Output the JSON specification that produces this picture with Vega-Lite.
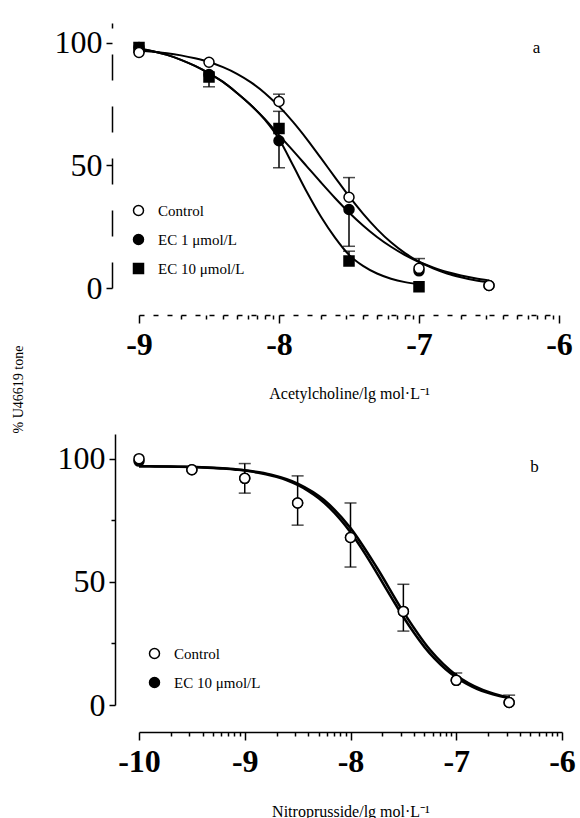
{
  "$schema": "https://vega.github.io/schema/vega-lite/v6.json",
  "background": "white",
  "padding": {"left": 11, "top": 23, "right": 0, "bottom": 0},
  "bounds": "flush",
  "spacing": 146,
  "config": {
    "view": {"stroke": null},
    "font": "Liberation Serif",
    "axis": {
      "grid": false,
      "domainColor": "black",
      "tickColor": "black",
      "labelColor": "black",
      "titleColor": "black",
      "labelFont": "Liberation Serif",
      "titleFont": "Liberation Serif",
      "titleFontWeight": "normal",
      "labelFontSize": 32,
      "domainWidth": 1.5,
      "tickWidth": 1.5,
      "labelOverlap": false,
      "labelFlush": false
    },
    "legend": {
      "labelFont": "Liberation Serif",
      "labelFontSize": 15,
      "labelColor": "black",
      "symbolStrokeColor": "black",
      "symbolStrokeWidth": 1.5,
      "symbolSize": 100,
      "rowPadding": 12,
      "labelOffset": 12,
      "padding": 0
    }
  },
  "datasets": {
    "curvesA": [
      {"s": "Control", "x": -9, "y": 96.8}, {"s": "Control", "x": -8.9, "y": 96.3}, {"s": "Control", "x": -8.8, "y": 95.7}, {"s": "Control", "x": -8.7, "y": 94.8}, {"s": "Control", "x": -8.6, "y": 93.6}, {"s": "Control", "x": -8.5, "y": 92.1}, {"s": "Control", "x": -8.4, "y": 90.0}, {"s": "Control", "x": -8.3, "y": 87.3}, {"s": "Control", "x": -8.2, "y": 83.8}, {"s": "Control", "x": -8.1, "y": 79.4}, {"s": "Control", "x": -8, "y": 74.0}, {"s": "Control", "x": -7.9, "y": 67.7}, {"s": "Control", "x": -7.8, "y": 60.6}, {"s": "Control", "x": -7.7, "y": 52.9}, {"s": "Control", "x": -7.6, "y": 45.1}, {"s": "Control", "x": -7.5, "y": 37.4}, {"s": "Control", "x": -7.4, "y": 30.3}, {"s": "Control", "x": -7.3, "y": 24.0}, {"s": "Control", "x": -7.2, "y": 18.6}, {"s": "Control", "x": -7.1, "y": 14.2}, {"s": "Control", "x": -7, "y": 10.7}, {"s": "Control", "x": -6.9, "y": 8.0}, {"s": "Control", "x": -6.8, "y": 5.9}, {"s": "Control", "x": -6.7, "y": 4.4}, {"s": "Control", "x": -6.6, "y": 3.2}, {"s": "Control", "x": -6.5, "y": 2.4},
      {"s": "EC 1", "x": -9, "y": 97.5}, {"s": "EC 1", "x": -8.9, "y": 96.5}, {"s": "EC 1", "x": -8.8, "y": 95.0}, {"s": "EC 1", "x": -8.7, "y": 93.0}, {"s": "EC 1", "x": -8.6, "y": 90.5}, {"s": "EC 1", "x": -8.5, "y": 87.5}, {"s": "EC 1", "x": -8.4, "y": 84.0}, {"s": "EC 1", "x": -8.3, "y": 79.5}, {"s": "EC 1", "x": -8.2, "y": 74.5}, {"s": "EC 1", "x": -8.1, "y": 68.8}, {"s": "EC 1", "x": -8, "y": 62.3}, {"s": "EC 1", "x": -7.9, "y": 56.0}, {"s": "EC 1", "x": -7.8, "y": 49.5}, {"s": "EC 1", "x": -7.7, "y": 43.0}, {"s": "EC 1", "x": -7.6, "y": 36.7}, {"s": "EC 1", "x": -7.5, "y": 30.8}, {"s": "EC 1", "x": -7.4, "y": 25.5}, {"s": "EC 1", "x": -7.3, "y": 20.8}, {"s": "EC 1", "x": -7.2, "y": 16.8}, {"s": "EC 1", "x": -7.1, "y": 13.4}, {"s": "EC 1", "x": -7, "y": 10.6}, {"s": "EC 1", "x": -6.9, "y": 8.4}, {"s": "EC 1", "x": -6.8, "y": 6.5}, {"s": "EC 1", "x": -6.7, "y": 5.1}, {"s": "EC 1", "x": -6.6, "y": 4.0}, {"s": "EC 1", "x": -6.5, "y": 3.1},
      {"s": "EC 10", "x": -9, "y": 97.5}, {"s": "EC 10", "x": -8.9, "y": 96.5}, {"s": "EC 10", "x": -8.8, "y": 95.0}, {"s": "EC 10", "x": -8.7, "y": 93.0}, {"s": "EC 10", "x": -8.6, "y": 90.5}, {"s": "EC 10", "x": -8.5, "y": 87.5}, {"s": "EC 10", "x": -8.4, "y": 84.0}, {"s": "EC 10", "x": -8.3, "y": 79.5}, {"s": "EC 10", "x": -8.2, "y": 74.5}, {"s": "EC 10", "x": -8.1, "y": 68.5}, {"s": "EC 10", "x": -8, "y": 60.7}, {"s": "EC 10", "x": -7.9, "y": 50.0}, {"s": "EC 10", "x": -7.8, "y": 39.0}, {"s": "EC 10", "x": -7.7, "y": 29.0}, {"s": "EC 10", "x": -7.6, "y": 20.5}, {"s": "EC 10", "x": -7.5, "y": 13.5}, {"s": "EC 10", "x": -7.4, "y": 9.0}, {"s": "EC 10", "x": -7.3, "y": 5.9}, {"s": "EC 10", "x": -7.2, "y": 3.8}, {"s": "EC 10", "x": -7.1, "y": 2.4}, {"s": "EC 10", "x": -7, "y": 1.5}
    ],
    "pointsA": [
      {"g": "EC 1 μmol/L", "x": -9, "y": 98}, {"g": "EC 1 μmol/L", "x": -8.5, "y": 87}, {"g": "EC 1 μmol/L", "x": -8, "y": 60}, {"g": "EC 1 μmol/L", "x": -7.5, "y": 32}, {"g": "EC 1 μmol/L", "x": -7, "y": 7}, {"g": "EC 1 μmol/L", "x": -6.5, "y": 1},
      {"g": "EC 10 μmol/L", "x": -9, "y": 98}, {"g": "EC 10 μmol/L", "x": -8.5, "y": 86}, {"g": "EC 10 μmol/L", "x": -8, "y": 65}, {"g": "EC 10 μmol/L", "x": -7.5, "y": 11}, {"g": "EC 10 μmol/L", "x": -7, "y": 0.5},
      {"g": "Control", "x": -9, "y": 96}, {"g": "Control", "x": -8.5, "y": 92}, {"g": "Control", "x": -8, "y": 76}, {"g": "Control", "x": -7.5, "y": 37}, {"g": "Control", "x": -7, "y": 8}, {"g": "Control", "x": -6.5, "y": 1}
    ],
    "errA": [
      {"x": -8, "y": 76, "end": 79}, {"x": -7.5, "y": 37, "end": 45}, {"x": -7, "y": 8, "end": 12},
      {"x": -8, "y": 60, "end": 49}, {"x": -7.5, "y": 32, "end": 17},
      {"x": -8.5, "y": 86, "end": 82}, {"x": -8, "y": 65, "end": 72}, {"x": -7.5, "y": 11, "end": 15}
    ],
    "curvesB": [
      {"s": "Control", "x": -10, "y": 96.9}, {"s": "Control", "x": -9.9, "y": 96.9}, {"s": "Control", "x": -9.8, "y": 96.8}, {"s": "Control", "x": -9.7, "y": 96.8}, {"s": "Control", "x": -9.6, "y": 96.7}, {"s": "Control", "x": -9.5, "y": 96.6}, {"s": "Control", "x": -9.4, "y": 96.4}, {"s": "Control", "x": -9.3, "y": 96.2}, {"s": "Control", "x": -9.2, "y": 96.0}, {"s": "Control", "x": -9.1, "y": 95.6}, {"s": "Control", "x": -9, "y": 95.2}, {"s": "Control", "x": -8.9, "y": 94.5}, {"s": "Control", "x": -8.8, "y": 93.7}, {"s": "Control", "x": -8.7, "y": 92.6}, {"s": "Control", "x": -8.6, "y": 91.2}, {"s": "Control", "x": -8.5, "y": 89.3}, {"s": "Control", "x": -8.4, "y": 86.9}, {"s": "Control", "x": -8.3, "y": 83.9}, {"s": "Control", "x": -8.2, "y": 80.1}, {"s": "Control", "x": -8.1, "y": 75.5}, {"s": "Control", "x": -8, "y": 70.1}, {"s": "Control", "x": -7.9, "y": 63.9}, {"s": "Control", "x": -7.8, "y": 57.1}, {"s": "Control", "x": -7.7, "y": 49.9}, {"s": "Control", "x": -7.6, "y": 42.7}, {"s": "Control", "x": -7.5, "y": 35.7}, {"s": "Control", "x": -7.4, "y": 29.3}, {"s": "Control", "x": -7.3, "y": 23.5}, {"s": "Control", "x": -7.2, "y": 18.6}, {"s": "Control", "x": -7.1, "y": 14.5}, {"s": "Control", "x": -7, "y": 11.2}, {"s": "Control", "x": -6.9, "y": 8.6}, {"s": "Control", "x": -6.8, "y": 6.5}, {"s": "Control", "x": -6.7, "y": 4.9}, {"s": "Control", "x": -6.6, "y": 3.7}, {"s": "Control", "x": -6.5, "y": 2.8},
      {"s": "EC 10", "x": -10, "y": 96.9}, {"s": "EC 10", "x": -9.75, "y": 96.8}, {"s": "EC 10", "x": -9.5, "y": 96.6}, {"s": "EC 10", "x": -9.25, "y": 96.2}, {"s": "EC 10", "x": -9, "y": 95.3}, {"s": "EC 10", "x": -8.75, "y": 93.5}, {"s": "EC 10", "x": -8.5, "y": 89.9}, {"s": "EC 10", "x": -8.25, "y": 83.2}, {"s": "EC 10", "x": -8, "y": 71.8}, {"s": "EC 10", "x": -7.75, "y": 55.7}, {"s": "EC 10", "x": -7.5, "y": 37.8}, {"s": "EC 10", "x": -7.25, "y": 22.5}, {"s": "EC 10", "x": -7, "y": 12.1}, {"s": "EC 10", "x": -6.75, "y": 6.1}, {"s": "EC 10", "x": -6.5, "y": 3.0}
    ],
    "pointsB": [
      {"g": "EC 10 μmol/L", "x": -10, "y": 99}, {"g": "EC 10 μmol/L", "x": -9.5, "y": 95.5}, {"g": "EC 10 μmol/L", "x": -9, "y": 92}, {"g": "EC 10 μmol/L", "x": -8.5, "y": 82}, {"g": "EC 10 μmol/L", "x": -8, "y": 68}, {"g": "EC 10 μmol/L", "x": -7.5, "y": 38}, {"g": "EC 10 μmol/L", "x": -7, "y": 10}, {"g": "EC 10 μmol/L", "x": -6.5, "y": 1},
      {"g": "Control", "x": -10, "y": 100}, {"g": "Control", "x": -9.5, "y": 95.5}, {"g": "Control", "x": -9, "y": 92}, {"g": "Control", "x": -8.5, "y": 82}, {"g": "Control", "x": -8, "y": 68}, {"g": "Control", "x": -7.5, "y": 38}, {"g": "Control", "x": -7, "y": 10}, {"g": "Control", "x": -6.5, "y": 1}
    ],
    "errB": [
      {"x": -9, "y": 92, "end": 98}, {"x": -9, "y": 92, "end": 86},
      {"x": -8.5, "y": 82, "end": 93}, {"x": -8.5, "y": 82, "end": 73},
      {"x": -8, "y": 68, "end": 82}, {"x": -8, "y": 68, "end": 56},
      {"x": -7.5, "y": 38, "end": 49}, {"x": -7.5, "y": 38, "end": 30},
      {"x": -7, "y": 10, "end": 13}, {"x": -6.5, "y": 1, "end": 4}
    ],
    "labelA": [{"x": -6.16, "y": 98, "t": "a"}],
    "labelB": [{"x": -6.26, "y": 96.7, "t": "b"}]
  },
  "resolve": {
    "scale": {"x": "independent", "y": "independent", "shape": "independent", "fill": "independent", "stroke": "independent"},
    "legend": {"shape": "independent", "fill": "independent", "stroke": "independent"}
  },
  "vconcat": [
    {
      "width": 420,
      "height": 265,
      "encoding": {
        "x": {
          "field": "x", "type": "quantitative",
          "scale": {"domain": [-9, -6], "nice": false, "zero": false},
          "axis": {
            "title": "Acetylcholine/lg mol·L⁻¹",
            "titleFontSize": 16,
            "titlePadding": 25,
            "offset": 27,
            "values": [-9, -8.699, -8.523, -8.398, -8.301, -8.222, -8.155, -8.097, -8.046, -8, -7.699, -7.523, -7.398, -7.301, -7.222, -7.155, -7.097, -7.046, -7, -6.699, -6.523, -6.398, -6.301, -6.222, -6.155, -6.097, -6.046, -6],
            "labelExpr": "abs(datum.value - round(datum.value)) < 0.001 ? '' + round(datum.value) : ''",
            "labelFontWeight": "bold",
            "labelPadding": 6,
            "tickSize": {"condition": {"test": "abs(datum.value - round(datum.value)) < 0.001", "value": 8}, "value": 4},
            "domainDash": [5, 9]
          }
        },
        "y": {
          "field": "y", "type": "quantitative",
          "scale": {"domain": [0, 108], "nice": false},
          "axis": {
            "title": "% U46619 tone",
            "titleFontSize": 14,
            "titleX": -87,
            "titleY": 366,
            "offset": 27,
            "values": [0, 50, 100],
            "tickSize": 6,
            "labelPadding": 4,
            "domainDash": [26, 26]
          }
        }
      },
      "layer": [
        {
          "data": {"name": "curvesA"},
          "mark": {"type": "line", "color": "black", "strokeWidth": 2, "interpolate": "monotone"},
          "encoding": {"detail": {"field": "s"}}
        },
        {
          "data": {"name": "errA"},
          "mark": {"type": "rule", "color": "black", "strokeWidth": 1.5},
          "encoding": {"y2": {"field": "end"}}
        },
        {
          "data": {"name": "errA"},
          "mark": {"type": "tick", "orient": "horizontal", "color": "black", "size": 12, "thickness": 1.5},
          "encoding": {"y": {"field": "end", "type": "quantitative"}}
        },
        {
          "data": {"name": "pointsA"},
          "mark": {"type": "point", "filled": true, "strokeWidth": 1.5, "size": 100, "opacity": 1},
          "encoding": {
            "shape": {
              "field": "g", "type": "nominal",
              "scale": {"domain": ["Control", "EC 1 μmol/L", "EC 10 μmol/L"], "range": ["circle", "circle", "square"]},
              "legend": {"title": null, "orient": "none", "legendX": -8, "legendY": 180}
            },
            "fill": {
              "field": "g", "type": "nominal",
              "scale": {"domain": ["Control", "EC 1 μmol/L", "EC 10 μmol/L"], "range": ["white", "black", "black"]},
              "legend": {"title": null, "orient": "none", "legendX": -8, "legendY": 180}
            },
            "stroke": {
              "field": "g", "type": "nominal",
              "scale": {"domain": ["Control", "EC 1 μmol/L", "EC 10 μmol/L"], "range": ["black", "black", "black"]},
              "legend": {"title": null, "orient": "none", "legendX": -8, "legendY": 180}
            }
          }
        },
        {
          "data": {"name": "labelA"},
          "mark": {"type": "text", "font": "Liberation Serif", "fontSize": 17, "color": "black"},
          "encoding": {"text": {"field": "t"}}
        }
      ]
    },
    {
      "width": 423,
      "height": 271,
      "encoding": {
        "x": {
          "field": "x", "type": "quantitative",
          "scale": {"domain": [-10, -6], "nice": false, "zero": false},
          "axis": {
            "title": "Nitroprusside/lg mol·L⁻¹",
            "titleFontSize": 16,
            "titlePadding": 26,
            "offset": 27,
            "values": [-10, -9.699, -9.523, -9.398, -9.301, -9.222, -9.155, -9.097, -9.046, -9, -8.699, -8.523, -8.398, -8.301, -8.222, -8.155, -8.097, -8.046, -8, -7.699, -7.523, -7.398, -7.301, -7.222, -7.155, -7.097, -7.046, -7, -6.699, -6.523, -6.398, -6.301, -6.222, -6.155, -6.097, -6.046, -6],
            "labelExpr": "abs(datum.value - round(datum.value)) < 0.001 ? '' + round(datum.value) : ''",
            "labelFontWeight": "bold",
            "labelPadding": 6,
            "tickSize": {"condition": {"test": "abs(datum.value - round(datum.value)) < 0.001", "value": 8}, "value": 4}
          }
        },
        "y": {
          "field": "y", "type": "quantitative",
          "scale": {"domain": [0, 110], "nice": false},
          "axis": {
            "title": null,
            "offset": 24,
            "values": [0, 25, 50, 75, 100],
            "labelExpr": "datum.value % 50 == 0 ? datum.label : ''",
            "tickSize": {"condition": {"test": "datum.value % 50 == 0", "value": 6}, "value": 4},
            "labelPadding": 4
          }
        }
      },
      "layer": [
        {
          "data": {"name": "curvesB"},
          "mark": {"type": "line", "color": "black", "strokeWidth": 2.5, "interpolate": "monotone"},
          "encoding": {"detail": {"field": "s"}}
        },
        {
          "data": {"name": "errB"},
          "mark": {"type": "rule", "color": "black", "strokeWidth": 1.5},
          "encoding": {"y2": {"field": "end"}}
        },
        {
          "data": {"name": "errB"},
          "mark": {"type": "tick", "orient": "horizontal", "color": "black", "size": 12, "thickness": 1.5},
          "encoding": {"y": {"field": "end", "type": "quantitative"}}
        },
        {
          "data": {"name": "pointsB"},
          "mark": {"type": "point", "filled": true, "strokeWidth": 1.5, "size": 100, "opacity": 1},
          "encoding": {
            "shape": {
              "field": "g", "type": "nominal",
              "scale": {"domain": ["Control", "EC 10 μmol/L"], "range": ["circle", "circle"]},
              "legend": {"title": null, "orient": "none", "legendX": 8, "legendY": 212}
            },
            "fill": {
              "field": "g", "type": "nominal",
              "scale": {"domain": ["Control", "EC 10 μmol/L"], "range": ["white", "black"]},
              "legend": {"title": null, "orient": "none", "legendX": 8, "legendY": 212}
            },
            "stroke": {
              "field": "g", "type": "nominal",
              "scale": {"domain": ["Control", "EC 10 μmol/L"], "range": ["black", "black"]},
              "legend": {"title": null, "orient": "none", "legendX": 8, "legendY": 212}
            }
          }
        },
        {
          "data": {"name": "labelB"},
          "mark": {"type": "text", "font": "Liberation Serif", "fontSize": 17, "color": "black"},
          "encoding": {"text": {"field": "t"}}
        }
      ]
    }
  ]
}
